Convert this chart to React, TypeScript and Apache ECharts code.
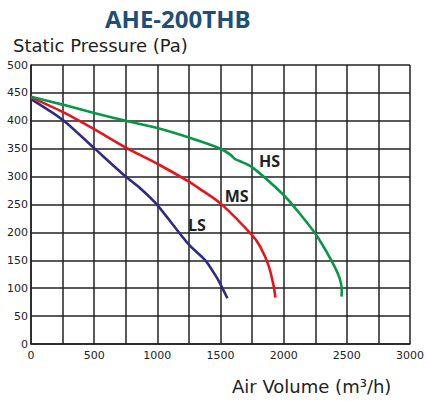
import React, { useEffect, useRef } from "react";
import * as echarts from "echarts";

const title = "AHE-200THB";
const yName = "Static Pressure (Pa)";
const xName = "Air Volume (m³/h)";

const lsData: [number, number][] = [
  [0, 439], [250, 402], [500, 351], [750, 300], [860, 280], [1000, 249],
  [1250, 178], [1380, 150], [1460, 123], [1500, 107], [1555, 82],
];
const msData: [number, number][] = [
  [0, 442], [250, 416], [500, 385], [750, 352], [1000, 323], [1250, 291],
  [1330, 279], [1500, 252], [1750, 195], [1815, 174], [1880, 141],
  [1920, 105], [1935, 83],
];
const hsData: [number, number][] = [
  [0, 443], [250, 429], [500, 414], [750, 400], [1000, 387], [1250, 370],
  [1500, 350], [1580, 339], [1618, 331], [1650, 328], [1750, 317],
  [2000, 267], [2115, 237], [2250, 198], [2377, 150], [2443, 118],
  [2460, 95], [2458, 85],
];
const seriesNames = ["LS", "MS", "HS"];
const seriesColors = ["#2e2a86", "#e8141c", "#0a9646"];
const labelCoords: [number, number][] = [
  [1314, 214],
  [1628, 266],
  [1888, 328],
];

export default function App() {
  const ref = useRef<HTMLDivElement>(null);
  useEffect(() => {
    if (!ref.current) return;
    const chart = echarts.init(ref.current, undefined, { renderer: "svg" });
    const datas = [lsData, msData, hsData];
    const font = "'DejaVu Sans', sans-serif";
    chart.setOption({
      animation: false,
      grid: { left: 31, right: 14, top: 65, bottom: 57, containLabel: false },
      xAxis: {
        type: "value",
        min: 0,
        max: 3000,
        interval: 250,
        axisLine: { show: true, lineStyle: { color: "#222", width: 1.5 } },
        axisTick: { show: false },
        splitLine: { show: true, lineStyle: { color: "#222", width: 1.5 } },
        axisLabel: {
          color: "#222",
          fontSize: 11,
          fontFamily: font,
          margin: 6,
          formatter: (v: number) => (v % 500 === 0 ? String(v) : ""),
        },
      },
      yAxis: {
        type: "value",
        min: 0,
        max: 500,
        interval: 50,
        axisLine: { show: true, lineStyle: { color: "#222", width: 1.5 } },
        axisTick: { show: false },
        splitLine: { show: true, lineStyle: { color: "#222", width: 1.5 } },
        axisLabel: { color: "#222", fontSize: 11, fontFamily: font, margin: 3 },
      },
      series: datas.map((d, i) => ({
        type: "line",
        name: seriesNames[i],
        data: d,
        smooth: 0.25,
        showSymbol: false,
        symbol: "none",
        lineStyle: { color: seriesColors[i], width: 2.6 },
        markPoint: {
          symbol: "circle",
          symbolSize: 0,
          data: [{ coord: labelCoords[i] }],
          label: {
            show: true,
            formatter: seriesNames[i],
            color: "#222",
            fontSize: 16,
            fontWeight: "bold",
            fontFamily: "'Open Sans', sans-serif",
            position: "inside",
          },
        },
      })),
      graphic: [
        {
          type: "text",
          left: 105,
          top: 6,
          style: {
            text: title,
            fill: "#1f4e79",
            font: "bold 24px 'Open Sans', sans-serif",
          },
        },
        {
          type: "text",
          left: 13,
          top: 36,
          style: {
            text: yName,
            fill: "#222",
            font: "18px 'DejaVu Sans', sans-serif",
          },
        },
        {
          type: "text",
          left: 232,
          top: 377,
          style: {
            text: xName,
            fill: "#222",
            font: "18px 'DejaVu Sans', sans-serif",
          },
        },
      ],
    });
    return () => chart.dispose();
  }, []);
  return (
    <div
      ref={ref}
      style={{ position: "fixed", left: 0, top: 0, width: 427, height: 401, background: "#fff" }}
    />
  );
}
